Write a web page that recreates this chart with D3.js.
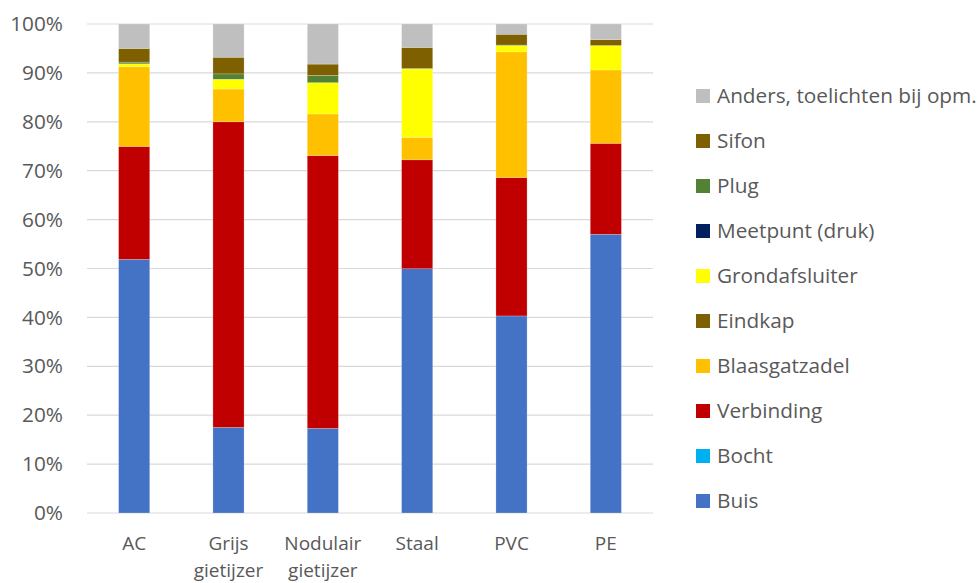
<!DOCTYPE html>
<html><head><meta charset="utf-8">
<script src="https://cdn.jsdelivr.net/npm/d3@7"></script>
<style>body{margin:0;background:#fff}svg{display:block}</style>
</head><body>
<svg id="chart" width="979" height="583"></svg>
<script>
const categories = [["AC"],["Grijs","gietijzer"],["Nodulair","gietijzer"],["Staal"],["PVC"],["PE"]];
const seriesNames = ["Buis","Bocht","Verbinding","Blaasgatzadel","Eindkap","Grondafsluiter","Meetpunt (druk)","Plug","Sifon","Anders, toelichten bij opm."];
const seriesColors = ["#4472C4","#00B0F0","#C00000","#FFC000","#7F6000","#FFFF00","#002060","#548235","#7F6000","#BFBFBF"];
// values in % per category (AC, Grijs, Nodulair, Staal, PVC, PE)
const buis           = [51.9, 17.5, 17.3, 50.0, 40.3, 57.0];
const bocht          = [0, 0, 0, 0, 0, 0];
const verbinding     = [23.1, 62.5, 55.8, 22.3, 28.3, 18.6];
const blaasgatzadel  = [16.3, 6.7, 8.5, 4.6, 25.7, 15.0];
const eindkap        = [0, 0, 0, 0, 0, 0];
const grondafsluiter = [0.6, 2.0, 6.4, 14.0, 1.3, 5.0];
const meetpunt       = [0, 0, 0, 0, 0, 0];
const plug           = [0.35, 1.1, 1.5, 0.1, 0.1, 0];
const sifon          = [2.8, 3.4, 2.3, 4.3, 2.2, 1.2];
const anders         = [5.0, 6.8, 8.2, 4.8, 2.1, 3.2];
const yTicks = [0,10,20,30,40,50,60,70,80,90,100];

const seriesValues = [buis,bocht,verbinding,blaasgatzadel,eindkap,grondafsluiter,meetpunt,plug,sifon,anders];
const catKeys = categories.map(c => c.join(" "));
const rows = catKeys.map((k,i) => {
  const r = {cat:k};
  seriesNames.forEach((s,j) => r[s] = seriesValues[j][i]);
  return r;
});
const stacked = d3.stack().keys(seriesNames).offset(d3.stackOffsetExpand)(rows);

const svg = d3.select("#chart");
const font = "'Open Sans', 'Liberation Sans', sans-serif";
const textColor = "#595959";
const plotLeft = 87, plotRight = 653, plotTop = 24, plotBottom = 513;

// Fit font size so legend longest label spans ~260px
const probe = svg.append("text").attr("font-family", font).attr("font-size", 18).text(seriesNames[9]);
const w18 = probe.node().getComputedTextLength();
probe.remove();
const fs = Math.min(22, 18 * 260 / w18);

const x = d3.scaleBand().domain(catKeys).range([plotLeft, plotRight]).paddingInner(0.67).paddingOuter(0.335);
const y = d3.scaleLinear().domain([0, 1]).range([plotBottom, plotTop]);

// gridlines
svg.append("g").selectAll("line").data(yTicks).join("line")
  .attr("x1", plotLeft).attr("x2", plotRight)
  .attr("y1", d => y(d/100)).attr("y2", d => y(d/100))
  .attr("stroke", "#d9d9d9").attr("stroke-width", 1.2);

// y axis labels
const yAxis = d3.axisLeft(y).tickValues(yTicks.map(d => d/100)).tickFormat(d3.format(".0%")).tickSize(0).tickPadding(0);
const yg = svg.append("g").attr("transform", `translate(${plotLeft - 24},0)`).call(yAxis);
yg.select(".domain").remove();
yg.selectAll("text").attr("font-family", font).attr("font-size", fs).attr("fill", textColor);

// bars
svg.append("g").selectAll("g").data(stacked).join("g")
  .attr("fill", (d,i) => seriesColors[i])
  .selectAll("rect").data(d => d).join("rect")
  .attr("x", d => x(d.data.cat))
  .attr("width", x.bandwidth())
  .attr("y", d => y(d[1]))
  .attr("height", d => Math.max(0, y(d[0]) - y(d[1])))
  .attr("stroke", "#ffffff").attr("stroke-opacity", 0.35).attr("stroke-width", 0.6);

// x labels (one text element per line)
const xfs = Math.min(fs, 19);
const xg = svg.append("g");
categories.forEach((c, i) => {
  const cx = x(catKeys[i]) + x.bandwidth()/2;
  c.forEach((line, j) => {
    xg.append("text").attr("x", cx).attr("y", 550 + j * 27)
      .attr("text-anchor", "middle").attr("font-family", font).attr("font-size", xfs)
      .attr("fill", textColor).text(line);
  });
});

// legend (reverse order, top = Anders)
const legendOrder = seriesNames.map((s,i) => i).reverse();
const lg = svg.append("g");
legendOrder.forEach((si, k) => {
  const cy = 96 + k * 45;
  lg.append("rect").attr("x", 696).attr("y", cy - 7).attr("width", 14).attr("height", 14).attr("fill", seriesColors[si]);
  lg.append("text").attr("x", 717).attr("y", cy).attr("dy", "0.35em")
    .attr("font-family", font).attr("font-size", fs).attr("fill", textColor).text(seriesNames[si]);
});
</script>
</body></html>
